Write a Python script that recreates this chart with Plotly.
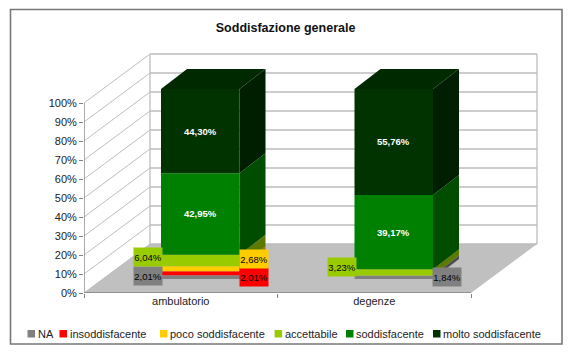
import plotly.graph_objects as go

# ---- data ----
categories = ["ambulatorio", "degenze"]
series_names = ["NA", "insoddisfacente", "poco soddisfacente", "accettabile", "soddisfacente", "molto soddisfacente"]
na = [2.01, 1.84]
insoddisfacente = [2.01, 0]
poco = [2.68, 0]
accettabile = [6.04, 3.23]
soddisfacente = [42.95, 39.17]
molto = [44.30, 55.76]
series_values = [na, insoddisfacente, poco, accettabile, soddisfacente, molto]
y_ticks = list(range(0, 101, 10))
y_tick_labels = [f"{t}%" for t in y_ticks]

# ---- styles ----
front = ["#808080", "#FF0000", "#FFCC00", "#99CC00", "#008000", "#003300"]
side = ["#4D4D4D", "#990000", "#997A00", "#5C7A00", "#004D00", "#001F00"]
top_col = "#002900"
label_col = ["#000000", "#000000", "#000000", "#000000", "#FFFFFF", "#FFFFFF"]
FONT = "Liberation Sans, Arial, sans-serif"
W, H = 576, 355
L, R, T, B = 84, 545, 50, 293          # plot-area pixels
UX, UY = 193.5, 1.9                    # pixels per category / per percent
XR = [-0.5, -0.5 + (R - L) / UX]
YR = [0, (B - T) / UY]
# oblique projection
WALL_DX, WALL_DY = 66 / UX, 49 / UY    # full floor depth
BAR_DX, BAR_DY = 26 / UX, 20 / UY      # bar depth
BAR_BASE = 14 / UY                     # bar front sits this far up the floor
BAR_OFF = 19.5 / UX                    # ...and this far to the right
BAR_W = 78.5 / UX
XA, XB = XR[0], 1.5


def px(x):
    return (x - L) / (R - L)


def py(y):
    return (B - y) / (B - T)


shapes = []


def poly(pts, fill):
    path = "M" + " L".join(f"{x},{y}" for x, y in pts) + " Z"
    shapes.append(dict(type="path", path=path, xref="x", yref="y", fillcolor=fill,
                       line=dict(width=0), layer="below"))


def seg(x0, y0, x1, y1, color, width=1):
    shapes.append(dict(type="line", x0=x0, y0=y0, x1=x1, y1=y1, xref="x", yref="y",
                       line=dict(color=color, width=width), layer="below"))


# chart frame
shapes.append(dict(type="rect", xref="paper", yref="paper", x0=px(10.5), x1=px(562), y0=py(9.5), y1=py(344),
                   line=dict(color="#777777", width=1.6), fillcolor="white", layer="below"))
# floor
poly([(XA, 0), (XB, 0), (XB + WALL_DX, WALL_DY), (XA + WALL_DX, WALL_DY)], "#C0C0C0")
# walls and grid lines
for t in y_ticks:
    seg(XA, t, XA + WALL_DX, t + WALL_DY, "#BDBDBD")
    seg(XA + WALL_DX, t + WALL_DY, XB + WALL_DX, t + WALL_DY, "#BDBDBD", 1.3)
seg(XA + WALL_DX, WALL_DY, XA + WALL_DX, 100 + WALL_DY, "#BDBDBD", 1.3)
seg(XB + WALL_DX, WALL_DY, XB + WALL_DX, 100 + WALL_DY, "#BDBDBD", 1.3)
# axes
seg(XA, 0, XA, 100, "#808080", 1.3)
seg(XA, 0, XB, 0, "#808080", 1.3)

fig = go.Figure()
annotations = []

# where each small value label sits beside its bar: (series, category) -> side, pixel shift
small_labels = {(0, 0): ("l", 1), (1, 0): ("r", -3.5), (2, 0): ("r", 10), (3, 0): ("l", 4),
                (0, 1): ("r", 0), (3, 1): ("l", 5)}

for c in range(len(categories)):
    base = BAR_BASE
    x0 = c + BAR_OFF - BAR_W / 2
    x1 = x0 + BAR_W
    for s, values in enumerate(series_values):
        v = values[c]
        if v:
            # side face of this segment
            fig.add_trace(go.Scatter(
                x=[x1, x1 + BAR_DX, x1 + BAR_DX, x1, x1],
                y=[base, base + BAR_DY, base + v + BAR_DY, base + v, base],
                mode="lines", fill="toself", fillcolor=side[s], line=dict(width=0),
                hoverinfo="skip", showlegend=False))
            label = f"{v:.2f}".replace(".", ",") + "%"
            mid = base + v / 2
            if (s, c) in small_labels:
                where, shift = small_labels[(s, c)]
                annotations.append(dict(
                    x=x0 if where == "l" else x1, y=mid, xref="x", yref="y",
                    text=label, showarrow=False, xanchor="right" if where == "l" else "left",
                    yanchor="middle", yshift=shift, xshift=2 if where == "l" else -1,
                    width=28, height=18, align="center", bgcolor=front[s], borderpad=0,
                    font=dict(family=FONT, size=9.5, color=label_col[s])))
            else:
                annotations.append(dict(
                    x=(x0 + x1) / 2, y=mid, xref="x", yref="y", text=f"<b>{label}</b>",
                    showarrow=False, font=dict(family=FONT, size=9.5, color=label_col[s])))
        base += v
    # top face
    fig.add_trace(go.Scatter(
        x=[x0, x1, x1 + BAR_DX, x0 + BAR_DX, x0],
        y=[base, base, base + BAR_DY, base + BAR_DY, base],
        mode="lines", fill="toself", fillcolor=top_col, line=dict(width=0),
        hoverinfo="skip", showlegend=False))

# front faces, floating on the floor
bases = [BAR_BASE, BAR_BASE]
for s, values in enumerate(series_values):
    fig.add_trace(go.Bar(
        x=list(range(len(categories))), y=values, base=list(bases), name=series_names[s],
        width=BAR_W, offset=BAR_OFF - BAR_W / 2, marker=dict(color=front[s], line=dict(width=0)),
        showlegend=False, hoverinfo="skip"))
    bases = [b + v for b, v in zip(bases, values)]

# hand-placed legend (the original keeps tiny gaps between swatch and text)
legend_x = [27.5, 59.5, 160, 274.6, 346, 433]
for name, color, lx in zip(series_names, front, legend_x):
    shapes.append(dict(type="rect", xref="paper", yref="paper", x0=px(lx), x1=px(lx + 7.5),
                       y0=py(330), y1=py(337.5), fillcolor=color, line=dict(width=0)))
    annotations.append(dict(xref="paper", yref="paper", x=px(lx + 10), y=py(333.5), text=name,
                            showarrow=False, xanchor="left", yanchor="middle",
                            font=dict(family=FONT, size=11, color="#222222"), borderpad=0, xshift=-1))

fig.update_layout(
    template="none",
    width=W, height=H, margin=dict(l=L, r=W - R, t=T, b=H - B, pad=0),
    paper_bgcolor="white", plot_bgcolor="rgba(0,0,0,0)", barmode="overlay", showlegend=False,
    title=dict(text="<b>Soddisfazione generale</b>", x=285.6 / W, xanchor="center",
               y=1 - 28 / H, yanchor="middle", font=dict(family=FONT, size=12.5, color="#111111")),
    shapes=shapes, annotations=annotations,
    xaxis=dict(range=XR, tickmode="array", tickvals=[0, 1], ticktext=categories, ticks="",
               showgrid=False, zeroline=False, showline=False,
               tickfont=dict(family=FONT, size=11, color="#222222"),
               minor=dict(tickmode="array", tickvals=[-0.5, 0.5, 1.5], ticks="outside",
                          ticklen=4, tickcolor="#808080", showgrid=False)),
    yaxis=dict(range=YR, tickmode="array", tickvals=y_ticks, ticktext=y_tick_labels, ticks="outside",
               ticklen=4, tickcolor="#808080", showgrid=False, zeroline=False, showline=False,
               tickfont=dict(family=FONT, size=11, color="#222222")),
)
fig.write_html("out.html", config={"displayModeBar": False}, post_script="document.body.style.margin='0';")
